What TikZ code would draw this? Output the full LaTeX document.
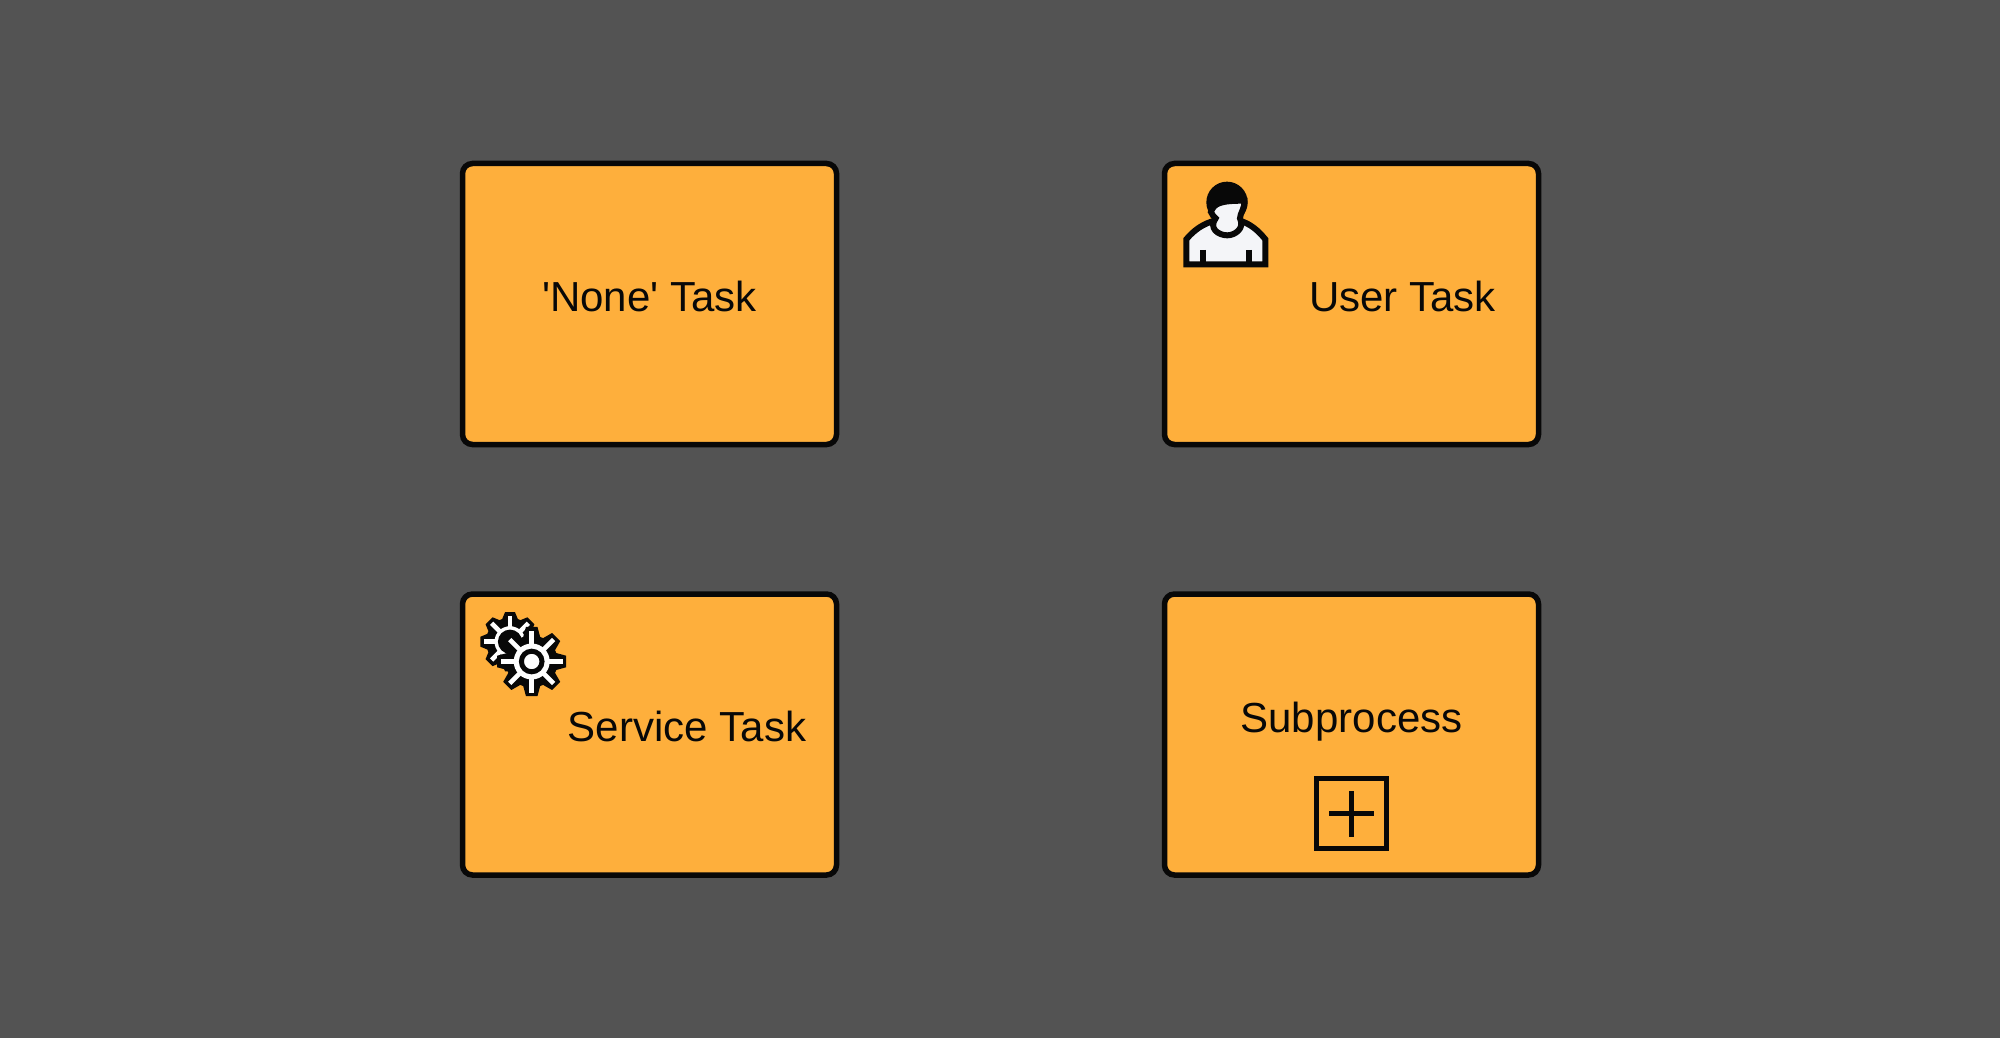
\documentclass[tikz,border=0pt]{standalone}
\usepackage{fontspec}
\setmainfont{Liberation Sans}
\newfontfamily\labelfont{Liberation Sans}
\usepackage{xcolor}
\definecolor{bgGrey}{HTML}{535353}
\definecolor{taskOrange}{HTML}{FEAF3C}
\definecolor{lineBlack}{HTML}{080808}
\definecolor{iconWhite}{HTML}{F4F5F8}
\tikzset{
	taskbox/.style={draw=lineBlack,fill=taskOrange,line width=5.5pt,rounded corners=10pt,minimum width=374pt,minimum height=281pt},
	tasklabel/.style={anchor=base,inner sep=0pt,text=lineBlack,font=\labelfont\fontsize{42}{50}\selectfont},
	iconline/.style={draw=lineBlack,fill=iconWhite,line width=6pt,line join=miter},
}
\newcommand{\gearicon}[3]{% tip radius, root radius, white radius
	\fill[lineBlack] (-9.5:#1)
		\foreach \a in {0,45,...,315}{ -- (\a-9.5:#1) -- (\a+9.5:#1) -- (\a+19:#2) -- (\a+26:#2)} -- cycle;
	\foreach \a in {0,45,...,315}{
		\draw[white,line width=4.6pt] (0,0) -- (\a:#1-4);
	}
	\fill[white] (0,0) circle (#3);
}
\begin{document}
\begin{tikzpicture}[x=1pt,y=-1pt]
	\useasboundingbox (0,0) rectangle (2000,1038);
	\fill[bgGrey] (0,0) rectangle (2000,1038);

	\node(noneTask) at (649.5,304)[taskbox]{};
	\node(userTask) at (1351.5,304)[taskbox]{};
	\node(serviceTask) at (649.5,734.5)[taskbox]{};
	\node(subTask) at (1351.5,734.5)[taskbox]{};

	\node(noneLabel) at (649.5,311)[tasklabel]{'None' Task};
	\node(userLabel) at (1402.5,311)[tasklabel]{User Task};
	\node(serviceLabel) at (687,741)[tasklabel]{Service Task};
	\node(subLabel) at (1351.5,732)[tasklabel]{Subprocess};

	% user icon
	\begin{scope}[shift={(1150,150)},x=0.3333pt,y=-0.3333pt]
		\fill[lineBlack] (231,157) circle (62);
		\draw[iconline] (109,343) -- (109,268) .. controls (130,242) and (160,220) .. (195,212)
			-- (268,212) .. controls (300,220) and (325,242) .. (346,268) -- (346,343) -- cycle;
		\draw[draw=lineBlack,line width=6pt] (158,300) -- (158,345);
		\draw[draw=lineBlack,line width=6pt] (297,300) -- (297,345);
		\draw[iconline] (183,186) .. controls (192,160) and (210,152) .. (283,152)
			.. controls (285,175) and (270,190) .. (270,205)
			.. controls (285,235) and (255,256) .. (232,256)
			.. controls (205,256) and (175,235) .. (197,205)
			.. controls (193,200) and (185,195) .. (183,186) -- cycle;
	\end{scope}

	% service icon
	\begin{scope}[shift={(510,641.7)}]
		\gearicon{30}{24}{15.5}
		\draw[draw=lineBlack,fill=gray,line width=8pt] (0,0) circle (8);
	\end{scope}
	\begin{scope}[shift={(531.7,661.5)}]
		\gearicon{35}{26}{18}
		\draw[draw=lineBlack,fill=white,line width=5pt] (0,0) circle (10.3);
	\end{scope}

	% subprocess marker
	\node(plusBox) at (1351.8,813.5)[draw=lineBlack,line width=5pt,minimum size=70pt,inner sep=0pt]{};
	\draw[draw=lineBlack,line width=5pt] ([xshift=-22.5pt]plusBox.center) -- ([xshift=22.5pt]plusBox.center);
	\draw[draw=lineBlack,line width=5pt] ([yshift=-23pt]plusBox.center) -- ([yshift=23pt]plusBox.center);
\end{tikzpicture}
\end{document}
